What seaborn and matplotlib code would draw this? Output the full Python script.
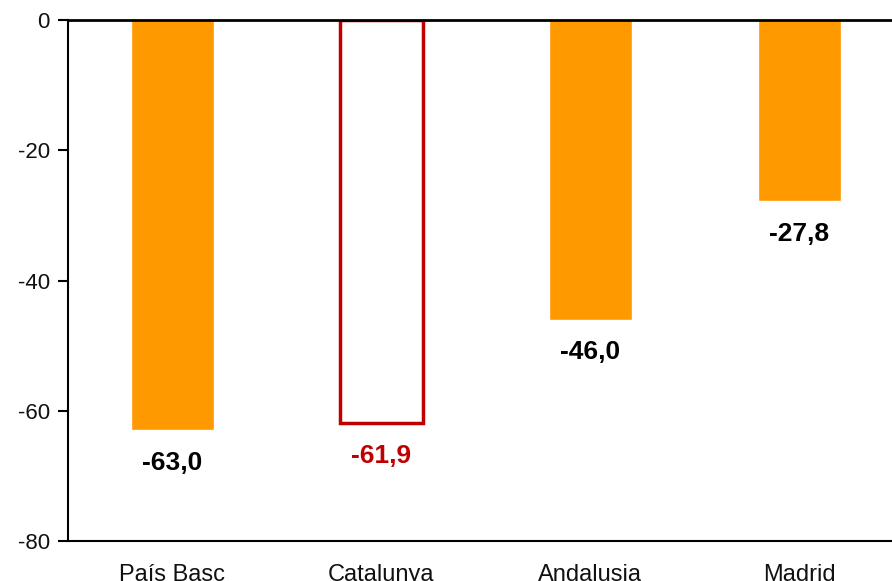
import pandas as pd
import matplotlib
matplotlib.use('Agg')
import matplotlib.pyplot as plt
import seaborn as sns
sns.set_style('white')
plt.rcParams['font.family'] = ['Liberation Sans', 'DejaVu Sans']
plt.rcParams['axes.unicode_minus'] = False

regions = ['País Basc', 'Catalunya', 'Andalusia', 'Madrid']
values = [-63.0, -61.9, -46.0, -27.8]
labels = ['-63,0', '-61,9', '-46,0', '-27,8']

data = pd.DataFrame({'region': regions, 'value': values})

orange = '#FF9900'
red = '#C00000'

fig = plt.figure(figsize=(8.92, 5.81), dpi=100)
ax = fig.add_axes([0.0762, 0.0688, 0.937, 0.8968])
sns.barplot(x='region', y='value', data=data, color=orange, width=0.4,
            saturation=1, ax=ax)

# Catalunya bar: white fill, red outline
cat = ax.patches[1]
cat.set_facecolor('white')
cat.set_edgecolor(red)
cat.set_linewidth(2.5)

for i, (v, lab) in enumerate(zip(values, labels)):
    col = red if i == 1 else 'black'
    ax.annotate(lab, (i, v), xytext=(0, -15), textcoords='offset points',
                ha='center', va='top', fontsize=19, fontweight='bold', color=col)

ax.set_ylim(-80, 0)
ax.set_xlim(-0.5, 3.5)
ax.set_yticks([0, -20, -40, -60, -80])
ax.set_xlabel('')
ax.set_ylabel('')
ax.tick_params(axis='y', labelsize=16, left=True, length=7, width=1.5, color='black',
               labelcolor='#111111', pad=6)
ax.tick_params(axis='x', labelsize=17, bottom=False, pad=13, labelcolor='#111111')
ax.spines['right'].set_visible(False)
for s in ['left', 'bottom', 'top']:
    ax.spines[s].set_color('black')
    ax.spines[s].set_linewidth(1.5)
ax.spines['top'].set_linewidth(2)

fig.savefig('out.png', dpi=100)
